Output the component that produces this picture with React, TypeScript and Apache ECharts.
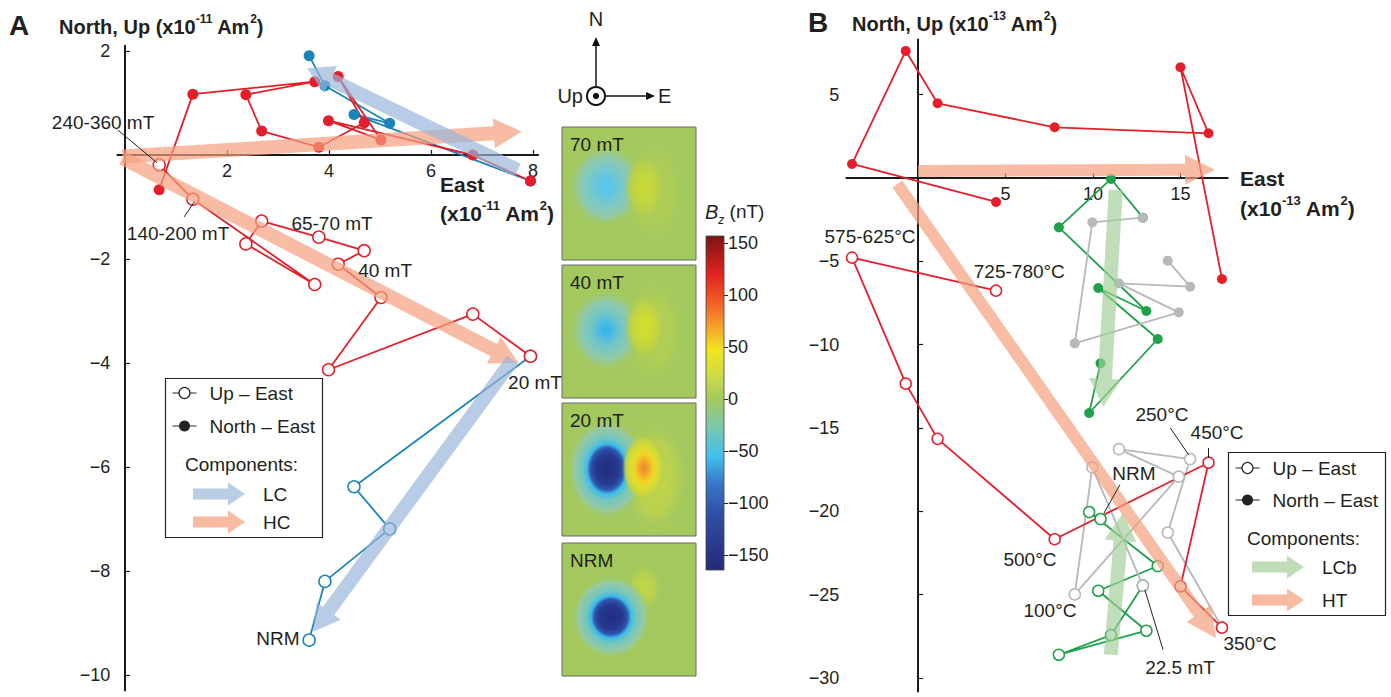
import React, { useEffect, useRef } from "react";
import * as echarts from "echarts";

const FONT = '"Liberation Sans", Arial, Helvetica, sans-serif';
const INK = "#231f20";

// ---------- Panel A (x10^-11 Am^2), demagnetization order ----------
const aLcEast = [3.61, 3.92, 5.19, 4.49, 7.95];
const aLcNorth = [1.91, 1.33, 0.61, 0.78, -0.5];
const aLcUp = [-9.33, -8.2, -7.19, -6.38, -3.87];
const aHcEast = [7.95, 6.82, 3.99, 5.02, 4.18, 4.69, 3.8, 2.68, 2.37, 3.72, 1.33, 0.67];
const aHcNorth = [-0.5, 0.0, 0.66, 0.29, 1.51, 0.62, 0.15, 0.46, 1.16, 1.41, 1.17, -0.67];
const aHcUp = [-3.87, -3.06, -4.13, -2.74, -2.1, -1.84, -1.58, -1.27, -1.71, -2.49, -0.85, -0.19];
const aArrowLC = [[7.7, -0.29, 3.57, 1.67], [7.6, -3.94, 3.69, -9.17]];
const aArrowHC = [[-0.05, -0.03, 7.78, 0.45], [-0.05, -0.06, 7.72, -4.0]];
const aNotes: [number, number, string][] = [
  [-0.43, 0.63, "240-360 mT"], [1.04, -1.5, "140-200 mT"], [4.06, -1.31, "65-70 mT"],
  [5.1, -2.23, "40 mT"], [8.04, -4.37, "20 mT"], [3.0, -9.29, "NRM"],
];
const aLeaders = [[-0.14, 0.48, 0.63, -0.15], [1.36, -0.9, 1.16, -1.19]];
const aXTicks = [2, 4, 6, 8];
const aYTicks = [2, -2, -4, -6, -8, -10];

// ---------- Panel B (x10^-13 Am^2) ----------
const bHtEast = [17.37, 15.0, 16.6, 7.81, 1.12, -0.7, -3.77, 4.46];
const bHtNorth = [-6.06, 6.64, 2.68, 3.04, 4.48, 7.62, 0.84, -1.44];
const bHtUp = [-26.97, -24.5, -17.08, -21.67, -15.65, -12.34, -4.78, -6.76];
const bLcbEast = [10.43, 9.78, 13.7, 10.3, 13.05, 8.05, 11.03, 12.85];
const bLcbNorth = [-11.12, -14.1, -9.66, -6.6, -7.98, -2.96, -0.06, -2.38];
const bLcbUp = [-20.46, -20.04, -23.28, -24.76, -27.16, -28.6, -27.42, -24.45];
const bMidEast = [12.85, 9.96, 8.96, 14.9, 11.48, 15.55, 14.27];
const bMidNorth = [-2.38, -2.66, -9.92, -8.06, -6.32, -6.52, -4.96];
const bMidUp = [-24.45, -17.36, -24.98, -17.92, -16.27, -16.86, -21.27];
const bArrowLCb = [[11.3, -0.72, 10.59, -13.72], [11.02, -28.6, 11.71, -20.1]];
const bArrowHT = [[0, 0.42, 16.97, 0.5], [-1.18, -0.36, 17.03, -27.6]];
const bNotes: [number, number, string][] = [
  [-2.74, -3.54, "575-625°C"], [5.79, -5.63, "725-780°C"], [13.94, -14.2, "250°C"],
  [17.09, -15.24, "450°C"], [12.34, -17.7, "NRM"], [6.4, -22.86, "500°C"],
  [7.54, -25.97, "100°C"], [14.97, -29.39, "22.5 mT"], [18.97, -27.9, "350°C"],
];
const bLeaders = [[14.42, -15.0, 15.46, -16.6], [16.6, -16.2, 16.6, -16.8], [11.54, -18.4, 10.63, -20.1], [14.0, -28.3, 12.96, -24.7]];
const bXTicks = [5, 10, 15];
const bYTicks = [5, -5, -10, -15, -20, -25, -30];

// ---------- Colour bar Bz (nT) ----------
const cbMin = -164;
const cbMax = 157;
const cbTicks = [150, 100, 50, 0, -50, -100, -150];
const cbValues = [157, 120, 95, 70, 48, 20, 0, -25, -55, -80, -110, -164];
const cbColors = ["#7c1416", "#e2231f", "#ef5a23", "#f6a02c", "#f2e51d", "#c9d94a", "#a3c95e", "#7fc8aa", "#3fc0ec", "#3a78c9", "#2f4fa6", "#252a78"];

const mapLabels = ["70 mT", "40 mT", "20 mT", "NRM"];

const RED = "#e41f2b";
const BLUE = "#1c84b8";
const GREEN = "#1ea14a";
const GRAY = "#b7b8bc";

const GRID_A = { left: 117.35, top: 45.8, width: 420.75, height: 644.8 };
const GRID_B = { left: 846.25, top: 39.6, width: 381.5, height: 651.8 };
const RANGE_A = { xMin: -0.15, xMax: 8.1, yMin: -10.3, yMax: 2.1 };
const RANGE_B = { xMin: -4.1, xMax: 17.7, yMin: -30.8, yMax: 8.3 };

const pts = (xs: number[], ys: number[]) => xs.map((x, i) => [x, ys[i]]);
const fmt = (v: number) => (v < 0 ? "\u2212" + Math.abs(v) : String(v));

function lineSeries(gi: number, data: number[][], color: string, open: boolean, size = 11) {
  return {
    type: "line", xAxisIndex: gi, yAxisIndex: gi, data, symbol: "circle", symbolSize: open ? size + 1 : size,
    showSymbol: true, showAllSymbol: true, silent: true, clip: false, z: 2,
    lineStyle: { color, width: 1.8 },
    itemStyle: open ? { color: "#fff", borderColor: color, borderWidth: 1.5 } : { color, borderWidth: 0 },
  };
}

function arrowSeries(gi: number, data: number[][], fill: string, hw: number, hl: number, hh: number) {
  return {
    type: "custom", xAxisIndex: gi, yAxisIndex: gi, data, silent: true, z: 3,
    encode: { x: [0, 2], y: [1, 3] },
    renderItem: (params: any, api: any) => {
      const a = api.coord([api.value(0), api.value(1)]);
      const b = api.coord([api.value(2), api.value(3)]);
      const dx = b[0] - a[0], dy = b[1] - a[1];
      const len = Math.hypot(dx, dy) || 1;
      const ux = dx / len, uy = dy / len, nx = -uy, ny = ux;
      const bx = b[0] - ux * hl, by = b[1] - uy * hl;
      const points = [
        [a[0] + nx * hw, a[1] + ny * hw], [bx + nx * hw, by + ny * hw], [bx + nx * hh, by + ny * hh],
        [b[0], b[1]], [bx - nx * hh, by - ny * hh], [bx - nx * hw, by - ny * hw], [a[0] - nx * hw, a[1] - ny * hw],
      ];
      return { type: "polygon", shape: { points }, style: { fill } };
    },
  };
}

function notesSeries(gi: number, notes: [number, number, string][]) {
  return {
    type: "custom", xAxisIndex: gi, yAxisIndex: gi, silent: true, z: 5,
    data: notes.map((n) => [n[0], n[1]]),
    renderItem: (params: any, api: any) => {
      const p = api.coord([api.value(0), api.value(1)]);
      return {
        type: "text", x: p[0], y: p[1],
        style: { text: notes[params.dataIndex][2], fill: INK, fontSize: 19, fontFamily: FONT, align: "center", verticalAlign: "middle", textAlign: "center", textVerticalAlign: "middle" },
      };
    },
  };
}

function leaderSeries(gi: number, data: number[][]) {
  return {
    type: "custom", xAxisIndex: gi, yAxisIndex: gi, silent: true, z: 5, data,
    renderItem: (params: any, api: any) => {
      const p = api.coord([api.value(0), api.value(1)]);
      const q = api.coord([api.value(2), api.value(3)]);
      return { type: "line", shape: { x1: p[0], y1: p[1], x2: q[0], y2: q[1] }, style: { stroke: INK, lineWidth: 1 } };
    },
  };
}

function valAxis(gi: number, min: number, max: number, ticks: number[], extra: any = {}) {
  return {
    type: "value", gridIndex: gi, min, max,
    axisLine: { show: true, onZero: extra.onZero !== false, lineStyle: { color: "#1a1a1a", width: 2 } },
    axisTick: { show: true, inside: true, length: 5, customValues: ticks, lineStyle: { color: "#1a1a1a", width: 1.2 } },
    axisLabel: { show: true, customValues: ticks, formatter: fmt, fontSize: 18, color: INK, fontFamily: FONT, margin: 7 },
    splitLine: { show: false },
    offset: extra.offset || 0,
  };
}

function xAxisAt(gi: number, grid: any, r: any, ticks: number[]) {
  // place the x axis on North/Up = 0
  const off = -grid.height * (0 - r.yMin) / (r.yMax - r.yMin);
  return valAxis(gi, r.xMin, r.xMax, ticks, { onZero: false, offset: off });
}

function txt(x: number, y: number, text: string, size: number, opts: any = {}) {
  return {
    type: "text", x, y, silent: true, z: 10,
    style: {
      text, fill: INK, fontSize: size, fontFamily: FONT, fontWeight: opts.bold ? "bold" : "normal",
      align: opts.align || "left", textAlign: opts.align || "left", verticalAlign: "middle", textVerticalAlign: "middle",
    },
  };
}

function richTitle(x: number, y: number, pre: string, exp: string, size: number) {
  return {
    type: "text", x, y, silent: true, z: 10,
    style: {
      text: `{b|${pre}}{s|${exp}}{b| Am}{s|2}{b|)}`,
      fill: INK, align: "left", verticalAlign: "middle", textAlign: "left", textVerticalAlign: "middle",
      rich: {
        b: { fontSize: size, fontWeight: "bold", fontFamily: FONT, fill: INK, lineHeight: size + 4, verticalAlign: "bottom" },
        s: { fontSize: Math.round(size * 0.6), fontWeight: "bold", fontFamily: FONT, fill: INK, lineHeight: size + 4, verticalAlign: "top" },
      },
    },
  };
}

function arrowPoly(x1: number, x2: number, y: number, fill: string) {
  const hw = 5.5, hh = 11.5, hl = 17;
  const bx = x2 - hl;
  return {
    type: "polygon", silent: true, z: 10,
    shape: { points: [[x1, y - hw], [bx, y - hw], [bx, y - hh], [x2, y], [bx, y + hh], [bx, y + hw], [x1, y + hw]] },
    style: { fill },
  };
}

function legendBox(x: number, y: number, w: number, h: number, rows: number[], arrowX: number[], textX: number, compX: number, labels: string[], fills: string[]) {
  const els: any[] = [];
  els.push({ type: "rect", silent: true, z: 9, shape: { x, y, width: w, height: h }, style: { fill: "#fff", stroke: "#222", lineWidth: 1.2 } });
  const mx = x + 19;
  els.push({ type: "line", z: 10, silent: true, shape: { x1: mx - 12, y1: rows[0], x2: mx + 12, y2: rows[0] }, style: { stroke: "#222", lineWidth: 1 } });
  els.push({ type: "circle", z: 10, silent: true, shape: { cx: mx, cy: rows[0], r: 5.5 }, style: { fill: "#fff", stroke: "#222", lineWidth: 1.2 } });
  els.push(txt(x + 44, rows[0], "Up \u2013 East", 19));
  els.push({ type: "line", z: 10, silent: true, shape: { x1: mx - 12, y1: rows[1], x2: mx + 12, y2: rows[1] }, style: { stroke: "#222", lineWidth: 1 } });
  els.push({ type: "circle", z: 10, silent: true, shape: { cx: mx, cy: rows[1], r: 5.5 }, style: { fill: "#222" } });
  els.push(txt(x + 44, rows[1], "North \u2013 East", 19));
  els.push(txt(compX, rows[2], "Components:", 19));
  els.push(arrowPoly(arrowX[0], arrowX[1], rows[3], fills[0]));
  els.push(txt(textX, rows[3], labels[0], 19));
  els.push(arrowPoly(arrowX[0], arrowX[1], rows[4], fills[1]));
  els.push(txt(textX, rows[4], labels[1], 19));
  return els;
}

const BG = "#a3c95e";
const fade = "rgba(163,201,94,0)";
// elliptical radial blob: circle scaled horizontally so the gradient is elliptical too
function blob(cx: number, cy: number, rx: number, ry: number, stops: [number, string][]) {
  return {
    type: "circle", silent: true, z: 6, x: cx, y: cy, scaleX: rx / ry, scaleY: 1,
    shape: { cx: 0, cy: 0, r: ry },
    style: { fill: new echarts.graphic.RadialGradient(0.5, 0.5, 0.5, stops.map(([o, c]) => ({ offset: o, color: c }))) },
  };
}

function mapGraphics() {
  const els: any[] = [];
  const left = 562, w = 134, h = 133;
  const tops = [127, 265, 403, 543];
  tops.forEach((t) => {
    els.push({ type: "rect", silent: true, z: 5, shape: { x: left, y: t, width: w, height: h }, style: { fill: BG, stroke: "#6a6a6a", lineWidth: 1 } });
  });
  const blueWeak: [number, string][] = [[0, "#58c6ea"], [0.22, "#62c6e2"], [0.45, "#7ac8c8"], [0.72, "#92c9a8"], [1, fade]];
  const blueMid: [number, string][] = [[0, "#34b2e8"], [0.16, "#48bae8"], [0.4, "#74c6c6"], [0.7, "#92c9a6"], [1, fade]];
  const blueStrong: [number, string][] = [[0, "#212c7c"], [0.3, "#263a90"], [0.42, "#2f58b0"], [0.5, "#3cbbe8"], [0.62, "#72c6c0"], [0.82, "#96c9a2"], [1, fade]];
  const yellowWeak: [number, string][] = [[0, "#cbd935"], [0.35, "#c5d73c"], [0.7, "#b7d04d"], [1, fade]];
  const yellowMid: [number, string][] = [[0, "#d6de2c"], [0.35, "#cdd935"], [0.7, "#bbd24a"], [1, fade]];
  // 70 mT
  els.push(blob(654, 192, 32, 56, [[0, "#b4cf53"], [0.6, "#adcc58"], [1, fade]]));
  els.push(blob(606, 186, 38, 42, blueWeak));
  els.push(blob(645, 188, 21, 34, yellowWeak));
  // 40 mT
  els.push(blob(654, 330, 32, 56, [[0, "#b8d150"], [0.6, "#afcd57"], [1, fade]]));
  els.push(blob(606, 330, 38, 42, blueMid));
  els.push(blob(645, 327, 21, 34, yellowMid));
  // 20 mT
  els.push(blob(655, 478, 34, 60, [[0, "#c8d644"], [0.6, "#b8d050"], [1, fade]]));
  els.push(blob(607, 469, 40, 50, blueStrong));
  els.push(blob(644, 468, 22, 34, [[0, "#ee8630"], [0.2, "#f1a52a"], [0.42, "#f0d426"], [0.62, "#dbdc30"], [0.82, "#c2d449"], [1, fade]]));
  // NRM
  els.push(blob(644, 588, 18, 24, [[0, "#c2d648"], [0.6, "#b6d150"], [1, fade]]));
  els.push(blob(611, 617, 40, 42, blueStrong));
  tops.forEach((t, i) => els.push(txt(570, t + 17, mapLabels[i], 19)));
  return els;
}

function compass() {
  const cx = 596, cy = 96;
  return [
    txt(cx, 19, "N", 20, { align: "center" }),
    { type: "line", silent: true, shape: { x1: cx, y1: cy - 10, x2: cx, y2: 44 }, style: { stroke: "#111", lineWidth: 1.5 } },
    { type: "polygon", silent: true, shape: { points: [[cx - 4, 46], [cx, 37], [cx + 4, 46]] }, style: { fill: "#111" } },
    { type: "circle", silent: true, shape: { cx, cy, r: 9 }, style: { fill: "#fff", stroke: "#111", lineWidth: 2 } },
    { type: "circle", silent: true, shape: { cx, cy, r: 3.2 }, style: { fill: "#111" } },
    txt(cx - 13, cy, "Up", 20, { align: "right" }),
    { type: "line", silent: true, shape: { x1: cx + 10, y1: cy, x2: 648, y2: cy }, style: { stroke: "#111", lineWidth: 1.5 } },
    { type: "polygon", silent: true, shape: { points: [[646, cy - 4], [655, cy], [646, cy + 4]] }, style: { fill: "#111" } },
    txt(658, cy, "E", 20),
  ];
}

function buildOption() {
  const cbRange = cbMax - cbMin;
  const cbStops = cbValues.map((v, i) => ({ offset: (cbMax - v) / cbRange, color: cbColors[i] }));
  const graphic: any[] = [
    txt(9, 25, "A", 28, { bold: true }),
    txt(808, 22, "B", 28, { bold: true }),
    richTitle(59, 25, "North, Up (x10", "-11", 20),
    richTitle(852, 22, "North, Up (x10", "-13", 20),
    txt(440, 184, "East", 21, { bold: true }),
    richTitle(440, 211, "(x10", "-11", 21),
    txt(1240, 178, "East", 21, { bold: true }),
    richTitle(1240, 206, "(x10", "-13", 21),
    ...compass(),
    ...mapGraphics(),
    {
      type: "text", x: 705, y: 214, silent: true, z: 10,
      style: {
        text: "{i|B}{u|z}{n| (nT)}", align: "left", verticalAlign: "middle", textAlign: "left", textVerticalAlign: "middle",
        rich: {
          i: { fontSize: 20, fontStyle: "italic", fontFamily: FONT, fill: INK, lineHeight: 24, verticalAlign: "top" },
          u: { fontSize: 12, fontStyle: "italic", fontFamily: FONT, fill: INK, lineHeight: 24, verticalAlign: "bottom" },
          n: { fontSize: 19, fontFamily: FONT, fill: INK, lineHeight: 24, verticalAlign: "top" },
        },
      },
    },
    ...legendBox(165.5, 378.5, 157, 159, [393, 426, 464, 494, 522], [193, 245], 263, 185, ["LC", "HC"], ["#b9cde4", "#f8bba2"]),
    ...legendBox(1228.5, 452.5, 157, 163, [468, 500, 538, 567, 600], [1252, 1304], 1322, 1247, ["LCb", "HT"], ["#bfdcb6", "#f8bba2"]),
  ];

  return {
    animation: false,
    backgroundColor: "#fff",
    textStyle: { fontFamily: FONT },
    grid: [GRID_A, GRID_B, { left: 706, top: 236, width: 18, height: 334 }],
    xAxis: [
      xAxisAt(0, GRID_A, RANGE_A, aXTicks),
      xAxisAt(1, GRID_B, RANGE_B, bXTicks),
      { type: "value", gridIndex: 2, min: 0, max: 1, show: false },
    ],
    yAxis: [
      valAxis(0, RANGE_A.yMin, RANGE_A.yMax, aYTicks),
      valAxis(1, RANGE_B.yMin, RANGE_B.yMax, bYTicks),
      {
        type: "value", gridIndex: 2, min: cbMin, max: cbMax, position: "right",
        axisLine: { show: false, onZero: false },
        axisTick: { show: true, inside: false, length: 4, customValues: cbTicks, lineStyle: { color: "#222", width: 1 } },
        axisLabel: { show: true, customValues: cbTicks, formatter: fmt, fontSize: 18, color: INK, fontFamily: FONT, margin: 4 },
        splitLine: { show: false },
      },
    ],
    series: [
      // Panel A
      lineSeries(0, pts(aLcEast, aLcUp), BLUE, true),
      lineSeries(0, pts(aLcEast, aLcNorth), BLUE, false),
      lineSeries(0, pts(aHcEast, aHcUp), RED, true),
      lineSeries(0, pts(aHcEast, aHcNorth), RED, false),
      arrowSeries(0, aArrowHC, "rgba(245,160,126,0.7)", 7, 28, 15),
      arrowSeries(0, aArrowLC, "rgba(150,182,216,0.68)", 7, 26, 15),
      leaderSeries(0, aLeaders),
      notesSeries(0, aNotes),
      // Panel B
      lineSeries(1, pts(bLcbEast, bLcbUp), GREEN, true, 10),
      lineSeries(1, pts(bLcbEast, bLcbNorth), GREEN, false, 10),
      lineSeries(1, pts(bMidEast, bMidUp).concat([[bHtEast[0], bHtUp[0]]]), GRAY, true, 10),
      lineSeries(1, pts(bMidEast, bMidNorth), GRAY, false, 10),
      lineSeries(1, pts(bHtEast, bHtUp), RED, true, 10),
      lineSeries(1, pts(bHtEast, bHtNorth), RED, false, 10),
      arrowSeries(1, bArrowHT, "rgba(245,160,126,0.7)", 6, 30, 15),
      arrowSeries(1, bArrowLCb, "rgba(160,206,152,0.68)", 7, 28, 16),
      leaderSeries(1, bLeaders),
      notesSeries(1, bNotes),
      // Colour bar
      {
        type: "custom", xAxisIndex: 2, yAxisIndex: 2, silent: true, data: [[0, cbMin, 1, cbMax]],
        encode: { x: [0, 2], y: [1, 3] },
        renderItem: (params: any, api: any) => {
          const p = api.coord([0, cbMax]);
          const q = api.coord([1, cbMin]);
          return {
            type: "rect", shape: { x: p[0], y: p[1], width: q[0] - p[0], height: q[1] - p[1] },
            style: { fill: new echarts.graphic.LinearGradient(0, 0, 0, 1, cbStops), stroke: "#444", lineWidth: 0.8 },
          };
        },
      },
    ],
    graphic,
  };
}

export default function App() {
  const ref = useRef<HTMLDivElement>(null);
  useEffect(() => {
    const chart = echarts.init(ref.current!, null, { renderer: "svg" });
    chart.setOption(buildOption() as any);
    return () => chart.dispose();
  }, []);
  return (
    <div
      ref={ref}
      style={{ position: "absolute", left: 0, top: 0, width: 1391, height: 697, background: "#fff" }}
    />
  );
}
